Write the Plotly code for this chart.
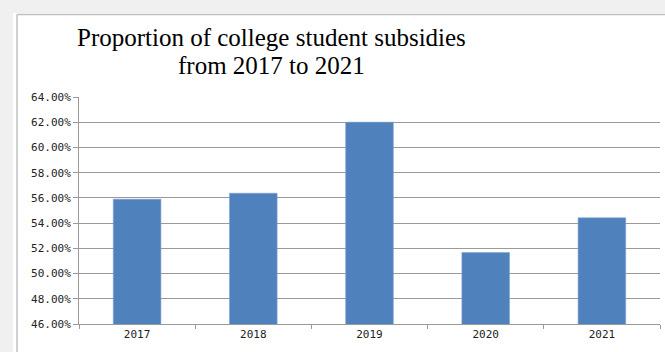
import plotly.graph_objects as go

years = ["2017", "2018", "2019", "2020", "2021"]
proportions = [0.5590, 0.5637, 0.6200, 0.5166, 0.5442]
y_ticks = [0.46, 0.48, 0.50, 0.52, 0.54, 0.56, 0.58, 0.60, 0.62, 0.64]
title_line1 = "Proportion of college student subsidies"
title_line2 = "from 2017 to 2021"

W, H = 665, 352
L, R, T, B = 79, 5, 97, 28
pw, ph = W - L - R, H - T - B

def px_x(x):
    return (x - L) / pw

def px_y(y):
    return (H - B - y) / ph

fig = go.Figure()
fig.add_trace(go.Bar(
    x=years, y=proportions,
    marker=dict(color="#4F81BD", line=dict(color="#7FA3D3", width=0.6)),
    width=0.41,
))

tick_font = dict(family="DejaVu Sans Mono", size=11, color="#222222")

fig.update_layout(
    width=W, height=H,
    margin=dict(l=L, r=R, t=T, b=B),
    paper_bgcolor="white", plot_bgcolor="white",
    showlegend=False,
    xaxis=dict(
        type="category",
        showgrid=False,
        showline=True, linecolor="#9a9a9a", linewidth=1,
        ticks="outside", tickson="boundaries", ticklen=4, tickcolor="#9a9a9a",
        tickfont=tick_font,
    ),
    yaxis=dict(
        range=[0.46, 0.64],
        tickvals=y_ticks,
        tickformat=".2%",
        showgrid=True, gridcolor="#9a9a9a", gridwidth=1,
        showline=True, linecolor="#9a9a9a", linewidth=1,
        ticks="outside", ticklen=5, tickcolor="#9a9a9a",
        tickfont=tick_font,
        zeroline=False,
    ),
    annotations=[
        dict(text=title_line1, x=px_x(271), y=px_y(38), xref="paper", yref="paper",
             xanchor="center", yanchor="middle", showarrow=False,
             font=dict(family="Liberation Serif", size=25, color="#000000")),
        dict(text=title_line2, x=px_x(271), y=px_y(65), xref="paper", yref="paper",
             xanchor="center", yanchor="middle", showarrow=False,
             font=dict(family="Liberation Serif", size=25, color="#000000")),
    ],
    shapes=[
        dict(type="rect", xref="paper", yref="paper",
             x0=px_x(0), x1=px_x(13), y0=px_y(352), y1=px_y(0),
             fillcolor="#f0f0f0", line=dict(width=0), layer="below"),
        dict(type="rect", xref="paper", yref="paper",
             x0=px_x(0), x1=px_x(665), y0=px_y(13), y1=px_y(0),
             fillcolor="#f0f0f0", line=dict(width=0), layer="below"),
        dict(type="line", xref="paper", yref="paper",
             x0=px_x(17), x1=px_x(665), y0=px_y(14.5), y1=px_y(14.5),
             line=dict(color="#c0c0c0", width=1.5)),
        dict(type="line", xref="paper", yref="paper",
             x0=px_x(17), x1=px_x(17), y0=px_y(14.5), y1=px_y(352),
             line=dict(color="#c0c0c0", width=1.5)),
    ],
)

fig.write_html("out.html",
               config={"displayModeBar": False},
               post_script="document.body.style.margin='0';document.body.style.padding='0';")
